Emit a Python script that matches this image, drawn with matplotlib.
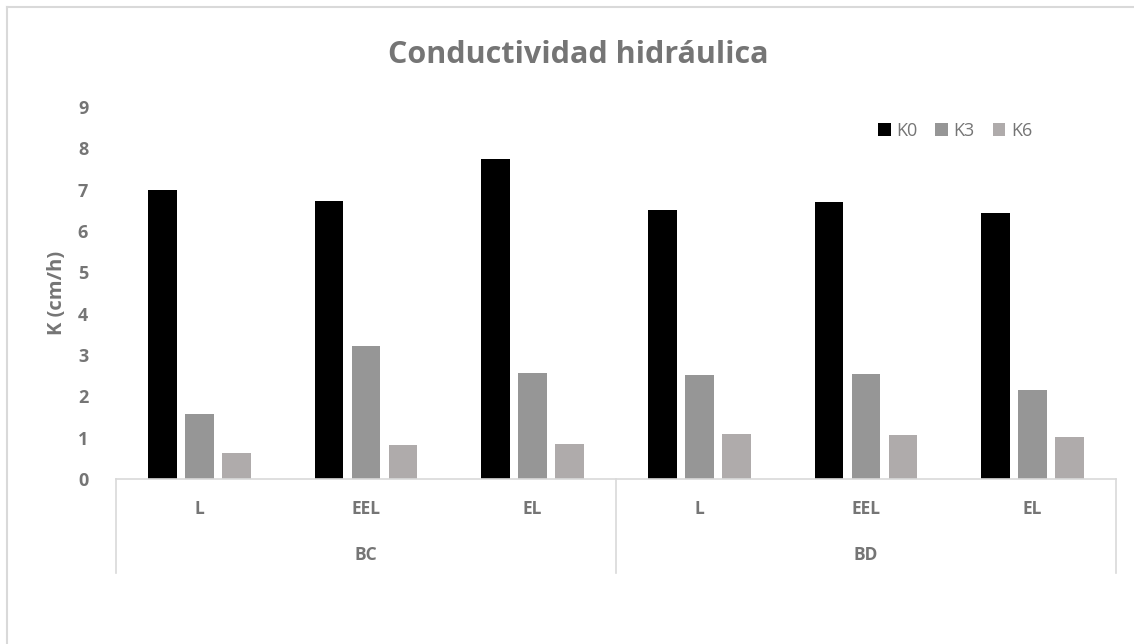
import matplotlib
matplotlib.use("Agg")
import matplotlib.pyplot as plt
import numpy as np
from matplotlib.lines import Line2D
from matplotlib.transforms import blended_transform_factory

# data
groups = ["BC", "BD"]
subgroups = ["L", "EEL", "EL"]
series_names = ["K0", "K3", "K6"]
k0 = [6.98, 6.73, 7.74, 6.51, 6.71, 6.44]
k3 = [1.57, 3.21, 2.57, 2.51, 2.53, 2.16]
k6 = [0.64, 0.83, 0.84, 1.08, 1.06, 1.02]
colors = ["#000000", "#969696", "#AFABAB"]

txt = "#757575"
plt.rcParams["font.family"] = ["Open Sans", "DejaVu Sans"]

W, H = 1134, 644
fig = plt.figure(figsize=(W / 100, H / 100), dpi=100)

# plot area in pixels
left, right, top, bottom = 116, 1116, 107, 479
ax = fig.add_axes([left / W, 1 - bottom / H, (right - left) / W, (bottom - top) / H])

n = len(k0)
x = np.arange(n)
width = 0.171
step = 0.222
for i, (vals, name) in enumerate(zip([k0, k3, k6], series_names)):
    ax.bar(x + (i - 1) * step, vals, width, color=colors[i], label=name,
           edgecolor="none", zorder=2)

ax.set_xlim(-0.5, n - 0.5)
ax.set_ylim(0, 9)
ax.set_yticks(range(0, 10))
ax.tick_params(axis="y", length=0, pad=20, labelsize=13, labelcolor=txt)
for lab in ax.get_yticklabels():
    lab.set_fontweight("bold")
ax.set_xticks([])
for s in ["top", "right", "left"]:
    ax.spines[s].set_visible(False)
ax.spines["bottom"].set_color("#D9D9D9")
ax.spines["bottom"].set_linewidth(1.2)

ax.set_ylabel("K (cm/h)", fontsize=14.5, fontweight="bold", color=txt, labelpad=8)

# two-level category axis
trans = blended_transform_factory(ax.transData, ax.transAxes)
px = 1.0 / (bottom - top)
for xi, lab in zip(x, subgroups * len(groups)):
    ax.text(xi, -30 * px, lab, transform=trans, ha="center", va="center",
            fontsize=12.5, fontweight="bold", color=txt)
for gi, g in enumerate(groups):
    ax.text(gi * 3 + 1, -76 * px, g, transform=trans, ha="center", va="center",
            fontsize=12.5, fontweight="bold", color=txt)
for xv in [-0.5, 2.5, 5.5]:
    ax.add_line(Line2D([xv, xv], [0, -94 * px], transform=trans, color="#D9D9D9",
                       lw=1.2, clip_on=False))

fig.text(578 / W, 1 - 55 / H, "Conductividad hidráulica", ha="center", va="center",
         fontsize=22, fontweight="bold", color=txt)

leg = ax.legend(loc="center", bbox_to_anchor=(955 / W, 1 - 131 / H),
                bbox_transform=fig.transFigure, ncol=3, frameon=False,
                fontsize=13, handlelength=0.7, handleheight=0.7,
                handletextpad=0.3, columnspacing=1.0)
for t in leg.get_texts():
    t.set_color(txt)

# chart border (top and left visible)
fig.add_artist(Line2D([7 / W, 7 / W], [0, 1 - 7 / H], transform=fig.transFigure,
                      color="#D9D9D9", lw=1.5))
fig.add_artist(Line2D([7 / W, 1], [1 - 7 / H, 1 - 7 / H], transform=fig.transFigure,
                      color="#D9D9D9", lw=1.5))

fig.savefig("out.png", dpi=100, facecolor="white")
